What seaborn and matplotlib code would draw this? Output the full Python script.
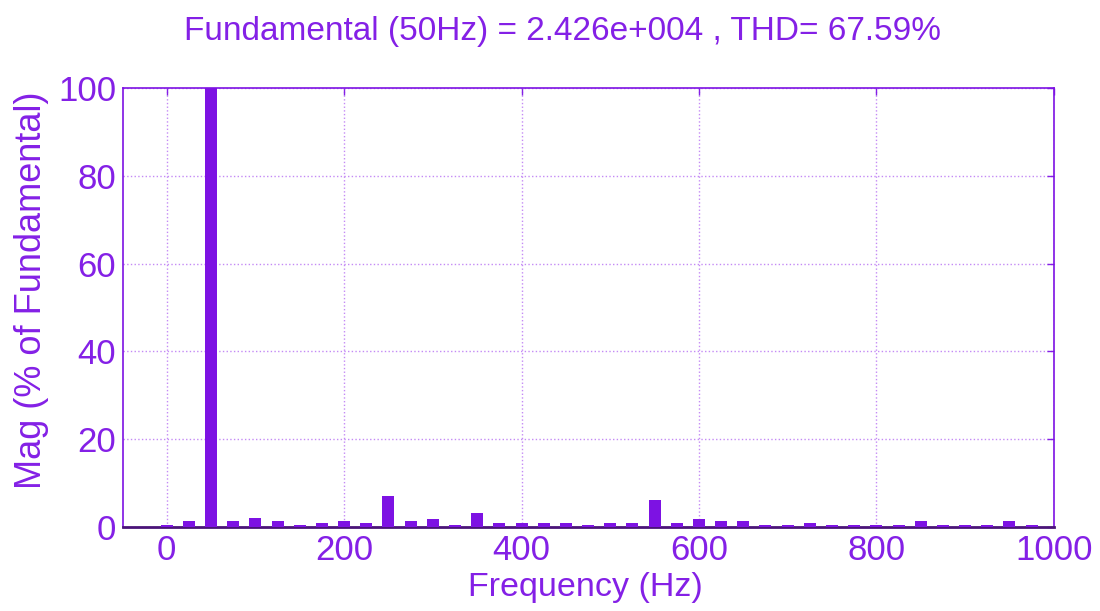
import matplotlib
matplotlib.use("Agg")
import matplotlib.pyplot as plt
import numpy as np
import seaborn as sns

# harmonic spectrum, 25 Hz steps
freq_hz = [0, 25, 50, 75, 100, 125, 150, 175, 200, 225, 250, 275, 300, 325, 350, 375,
           400, 425, 450, 475, 500, 525, 550, 575, 600, 625, 650, 675, 700, 725, 750,
           775, 800, 825, 850, 875, 900, 925, 950, 975]
mag_pct = [0.45, 1.3, 100, 1.3, 2.1, 1.3, 0.5, 0.8, 1.3, 0.8, 7.0, 1.3, 1.75, 0.5, 3.3, 0.8,
           0.8, 0.8, 0.8, 0.5, 0.8, 0.8, 6.15, 0.8, 1.75, 1.3, 1.3, 0.5, 0.5, 0.8, 0.5,
           0.5, 0.5, 0.5, 1.3, 0.5, 0.5, 0.5, 1.3, 0.5]
x_ticks = [0, 200, 400, 600, 800, 1000]
y_ticks = [0, 20, 40, 60, 80, 100]
title_text = "Fundamental (50Hz) = 2.426e+004 , THD= 67.59%"

bar_col = "#7d12e3"
text_col = "#8420e6"
grid_col = "#c48af5"

sns.set_style("white")
plt.rcParams["font.family"] = ["Liberation Sans", "DejaVu Sans"]

fig = plt.figure(figsize=(11, 6.11), dpi=100)
ax = fig.add_axes([0.112, 0.1375, 0.846, 0.7185])

sns.barplot(x=freq_hz, y=mag_pct, native_scale=True, width=0.54, color=bar_col,
            saturation=1, ax=ax, edgecolor="none", zorder=3)

ax.set_xlim(-49, 1000)
ax.set_ylim(0, 100)
ax.set_xticks(x_ticks)
ax.set_yticks(y_ticks)
ax.grid(True, linestyle=":", color=grid_col, linewidth=1.0, zorder=0)
ax.set_axisbelow(True)

ax.tick_params(axis="both", direction="in", length=5, width=1, colors=text_col,
               labelsize=25, top=True, right=True, pad=5)
for side in ["left", "right", "top"]:
    ax.spines[side].set_color(bar_col)
    ax.spines[side].set_linewidth(1.2)
ax.spines["bottom"].set_color("#4a1478")
ax.spines["bottom"].set_linewidth(2)

ax.set_xlabel("Frequency (Hz)", fontsize=24.5, color=text_col)
ax.xaxis.set_label_coords(0.497, -0.103)
ax.set_ylabel("Mag (% of Fundamental)", fontsize=26, color=text_col)
ax.yaxis.set_label_coords(-0.08, 0.54)

# title sits a bit left of the axes centre in the original
fig.text(0.511, 0.948, title_text, fontsize=24, color=text_col, ha="center", va="center")

fig.savefig("out.png", dpi=100)
